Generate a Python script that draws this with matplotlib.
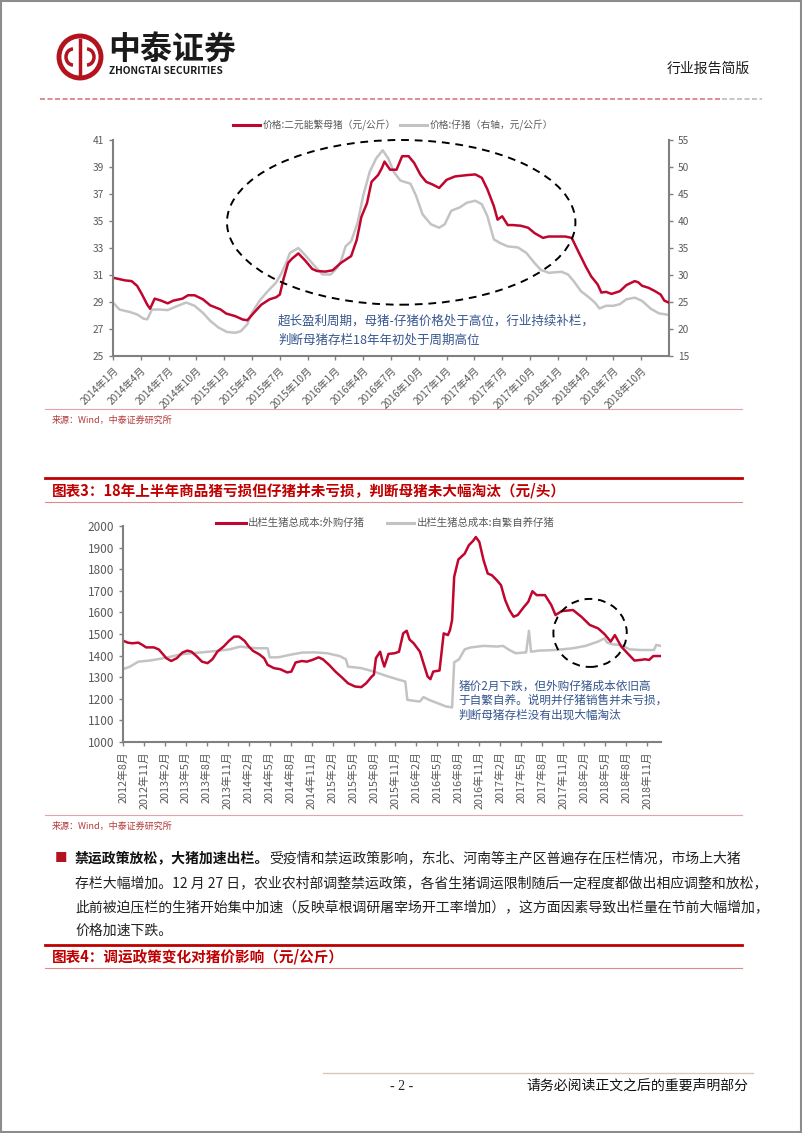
import matplotlib.pyplot as plt
from matplotlib.patches import Ellipse, Circle, Arc, Rectangle

plt.rcParams['font.family'] = ['Noto Sans CJK SC', 'DejaVu Sans']

RED = '#C0062F'
GRAY = '#C3C3C3'
AXC = '#808080'
TXT = '#595959'
BLUE = '#34558F'
TRED = '#C00000'

# ---- chart 1 data: month index from 2014-01 ----
sow_price = [(0, 30.8), (1.3, 30.6), (2.0, 30.55), (2.6, 30.2), (3.1, 29.6), (3.7, 28.8), (4.0, 28.5),
             (4.5, 29.25), (5.2, 29.1), (5.9, 28.9), (6.5, 29.1), (7.5, 29.25), (8.1, 29.5), (8.8, 29.5),
             (9.7, 29.2), (10.5, 28.75), (11.6, 28.45), (12.2, 28.15), (13.2, 27.95), (14.0, 27.7),
             (14.5, 27.65), (15.2, 28.2), (16.0, 28.8), (16.9, 29.2), (17.6, 29.35), (18.0, 29.55),
             (18.4, 30.7), (18.9, 31.9), (19.3, 32.2), (20.0, 32.6), (20.7, 32.1), (21.5, 31.45),
             (22.0, 31.3), (22.9, 31.25), (23.7, 31.35), (24.6, 31.9), (25.7, 32.4), (26.3, 33.6),
             (26.8, 35.3), (27.4, 36.3), (27.9, 37.9), (28.6, 38.4), (29.0, 38.9), (29.3, 39.4),
             (29.9, 38.8), (30.6, 38.8), (31.2, 39.8), (31.9, 39.8), (32.5, 39.3), (33.2, 38.4),
             (33.8, 37.9), (34.5, 37.7), (35.2, 37.45), (36.0, 38.05), (36.9, 38.3), (38.2, 38.4),
             (39.1, 38.45), (39.8, 38.2), (40.4, 37.35), (41.1, 36.1), (41.5, 35.1), (42.0, 35.35),
             (42.6, 34.7), (43.1, 34.7), (44.0, 34.65), (44.8, 34.5), (45.5, 34.1), (46.4, 33.75),
             (47.0, 33.85), (48.8, 33.85), (49.5, 33.75), (50.1, 32.9), (51.0, 31.65), (51.6, 30.9),
             (52.3, 30.3), (52.7, 29.7), (53.2, 29.75), (53.8, 29.6), (54.7, 29.8), (55.4, 30.25),
             (56.3, 30.55), (56.7, 30.45), (57.1, 30.2), (57.8, 30.05), (58.5, 29.8), (59.1, 29.55),
             (59.5, 29.1), (60.0, 28.95)]

piglet_price = [(0, 24.9), (0.7, 23.6), (1.8, 23.15), (2.6, 22.7), (3.3, 21.9), (3.7, 21.8), (4.2, 23.6),
                (5.0, 23.6), (5.9, 23.5), (7.0, 24.3), (7.9, 24.9), (8.8, 24.3), (9.7, 23.0), (10.5, 21.5),
                (11.4, 20.25), (12.3, 19.45), (13.2, 19.3), (13.8, 19.6), (14.5, 20.9), (14.9, 22.7),
                (15.8, 25.2), (16.7, 27.0), (17.6, 28.6), (18.2, 30.4), (18.7, 32.3), (19.1, 34.1),
                (20.0, 35.0), (20.7, 33.75), (21.8, 31.6), (22.0, 31.2), (22.6, 30.1), (23.5, 30.1),
                (24.2, 31.35), (24.6, 32.6), (25.1, 35.3), (25.7, 36.25), (26.4, 39.7), (27.0, 44.7),
                (27.7, 49.1), (28.4, 51.6), (29.1, 53.1), (29.7, 51.6), (30.3, 49.1), (31.0, 47.5),
                (32.1, 46.9), (32.7, 44.7), (33.4, 41.25), (34.3, 39.4), (35.2, 38.75), (35.8, 39.4),
                (36.5, 41.9), (37.4, 42.5), (38.2, 43.4), (39.1, 43.75), (39.8, 43.1), (40.4, 40.9),
                (41.1, 36.6), (41.8, 35.9), (42.6, 35.3), (43.7, 35.1), (44.6, 34.1), (45.5, 32.2),
                (46.2, 30.9), (46.6, 30.7), (47.0, 30.4), (48.4, 30.6), (49.1, 30.1), (49.7, 28.9),
                (50.5, 27.0), (51.4, 25.8), (52.0, 24.9), (52.5, 23.8), (53.2, 24.3), (54.0, 24.3),
                (54.7, 24.6), (55.4, 25.5), (56.3, 25.8), (57.1, 25.2), (58.0, 23.8), (58.9, 22.9),
                (60.0, 22.6)]

c1_ticks = list(range(0, 60, 3))
c1_labels = ['%d年%d月' % (2014 + i // 4, [1, 4, 7, 10][i % 4]) for i in range(20)]

# ---- chart 2 data: month index from 2012-08 ----
cost_bought = [(0, 1469), (0.7, 1460), (1.3, 1457), (2.2, 1460), (2.8, 1449), (3.3, 1438), (4.4, 1438),
               (5.1, 1429), (5.6, 1411), (6.2, 1388), (6.9, 1375), (7.7, 1388), (8.5, 1414), (9.2, 1423),
               (9.8, 1418), (10.5, 1398), (11.3, 1372), (12.1, 1365), (12.8, 1383), (13.5, 1418),
               (14.4, 1442), (15.2, 1469), (15.9, 1488), (16.6, 1488), (17.4, 1468), (18.0, 1442),
               (18.6, 1422), (19.5, 1406), (20.2, 1388), (20.7, 1357), (21.6, 1342), (22.5, 1337),
               (23.5, 1322), (24.1, 1326), (24.7, 1368), (25.6, 1375), (26.3, 1372), (27.1, 1380),
               (28.0, 1392), (28.6, 1383), (29.5, 1357), (30.4, 1326), (31.3, 1300), (32.2, 1272),
               (33.2, 1257), (34.1, 1254), (34.8, 1272), (35.6, 1303), (35.9, 1311), (36.2, 1388),
               (36.8, 1418), (37.1, 1380), (37.4, 1349), (38.0, 1408), (38.9, 1411), (39.5, 1418),
               (40.1, 1503), (40.6, 1515), (41.0, 1475), (41.6, 1457), (42.5, 1418), (43.0, 1365),
               (43.6, 1303), (44.0, 1291), (44.4, 1326), (45.3, 1331), (45.9, 1503), (46.5, 1495),
               (46.8, 1518), (47.1, 1565), (47.4, 1765), (48.0, 1845), (48.9, 1872), (49.5, 1911),
               (50.1, 1931), (50.5, 1949), (51.0, 1926), (51.6, 1842), (52.2, 1780), (52.8, 1772),
               (53.5, 1749), (54.1, 1726), (54.7, 1657), (55.3, 1611), (55.9, 1580), (56.5, 1588),
               (57.4, 1626), (58.0, 1649), (58.6, 1698), (59.2, 1680), (60.4, 1680), (61.3, 1634),
               (61.9, 1588), (62.8, 1606), (64.4, 1611), (65.6, 1580), (66.8, 1542), (68.0, 1526),
               (68.9, 1500), (69.8, 1465), (70.4, 1495), (71.3, 1442), (72.2, 1411), (73.2, 1377),
               (74.1, 1380), (74.7, 1383), (75.3, 1380), (75.9, 1398), (77.0, 1398)]

cost_self = [(0, 1337), (1.0, 1349), (2.2, 1372), (3.8, 1377), (5.3, 1385), (6.8, 1395), (8.3, 1406),
             (9.8, 1411), (11.3, 1415), (13.5, 1422), (15.3, 1429), (16.8, 1442), (17.7, 1438),
             (19.2, 1434), (20.7, 1434), (21.0, 1392), (22.2, 1392), (23.8, 1403), (25.6, 1414),
             (27.4, 1415), (29.2, 1411), (31.0, 1398), (31.9, 1383), (32.2, 1349), (34.1, 1342),
             (35.9, 1326), (37.7, 1306), (39.5, 1288), (40.4, 1280), (40.7, 1195), (42.2, 1188),
             (42.5, 1188), (43.0, 1208), (43.8, 1195), (45.0, 1180), (46.2, 1165), (47.1, 1160),
             (47.4, 1369), (48.1, 1383), (48.9, 1429), (49.8, 1438), (51.6, 1445), (53.5, 1442),
             (54.4, 1445), (55.3, 1426), (56.2, 1411), (57.7, 1415), (58.1, 1515), (58.4, 1418),
             (59.5, 1423), (61.9, 1426), (64.4, 1434), (66.2, 1445), (68.0, 1465), (68.9, 1480),
             (69.3, 1460), (70.1, 1452), (71.3, 1449), (72.5, 1429), (74.0, 1426), (76.0, 1426),
             (76.3, 1449), (77.0, 1445)]

c2_ticks = list(range(0, 77, 3))
c2_labels = ['%d年%d月' % (2012 + (7 + i) // 12, (7 + i) % 12 + 1) for i in range(0, 77, 3)]

W, H = 802, 1133
fig = plt.figure(figsize=(W / 100, H / 100), dpi=100)


def box(l, t, r, b):
    return [l / W, 1 - b / H, (r - l) / W, (b - t) / H]


page = fig.add_axes([0, 0, 1, 1])
page.set_xlim(0, W)
page.set_ylim(H, 0)
page.axis('off')

# ---- header ----
page.add_patch(Rectangle((1, 1), W - 2, H - 2, fill=False, ec='#8C8C8C', lw=1.5))
page.add_patch(Circle((80, 57), 21, fill=False, ec='#B3131E', lw=3.5))
page.plot([80, 80], [40, 74], color='#B3131E', lw=2.5)
page.add_patch(Arc((73, 57), 14, 16, theta1=90, theta2=270, ec='#B3131E', lw=2.5))
page.add_patch(Arc((87, 57), 14, 16, theta1=-90, theta2=90, ec='#B3131E', lw=2.5))
page.text(108, 50, '中泰证券', fontsize=23, fontweight='bold', va='center', color='#1a1a1a')
page.text(109, 71, 'ZHONGTAI SECURITIES', fontsize=7.3, fontweight='bold', va='center', color='#1a1a1a')
page.text(750, 69, '行业报告简版', fontsize=10, ha='right', va='center', color='#1a1a1a')
page.plot([40, 720], [99, 99], color='#D87A80', lw=1.2, ls=(0, (3, 1.5)))
page.plot([722, 762], [99, 99], color='#BBBBBB', lw=1.2, ls=(0, (3, 1.5)))

# ---- chart 1 ----
page.plot([233, 260], [125, 125], color=RED, lw=2.2)
page.text(263, 125, '价格:二元能繁母猪（元/公斤）', fontsize=7, va='center', color=TXT)
page.plot([400, 427], [125, 125], color=GRAY, lw=2.2)
page.text(430, 125, '价格:仔猪（右轴，元/公斤）', fontsize=7, va='center', color=TXT)

ax1 = fig.add_axes(box(113, 140, 669, 356))
ax1r = ax1.twinx()
ax1.set_zorder(ax1r.get_zorder() + 1)
ax1.patch.set_visible(False)
ax1.plot([p[0] for p in sow_price], [p[1] for p in sow_price], color=RED, lw=1.8)
ax1r.plot([p[0] for p in piglet_price], [p[1] for p in piglet_price], color=GRAY, lw=1.8)
ax1.set_xlim(0, 60)
ax1.set_ylim(25, 41)
ax1.set_yticks(range(25, 42, 2))
ax1r.set_ylim(15, 55)
ax1r.set_yticks(range(15, 56, 5))
ax1.set_xticks(c1_ticks)
ax1.set_xticklabels(c1_labels, rotation=45, ha='right', rotation_mode='anchor')
for a in (ax1, ax1r):
    for s in a.spines.values():
        s.set_color(AXC)
        s.set_linewidth(1.5)
    a.spines['top'].set_visible(False)
    a.tick_params(colors=AXC, labelcolor=TXT, labelsize=7.3, length=3, width=1)
ax1.spines['right'].set_visible(False)
ax1r.spines['left'].set_visible(False)
ax1r.spines['bottom'].set_visible(False)
ax1.add_patch(Ellipse((31.1, 34.9), 37.6, 12.2, fill=False, ec='black', lw=1.4,
                      ls=(0, (4, 3)), clip_on=False, zorder=5))
ax1.text(17.8, 27.55, '超长盈利周期，母猪-仔猪价格处于高位，行业持续补栏，', fontsize=9, color=BLUE, va='center')
ax1.text(17.8, 26.2, '判断母猪存栏18年年初处于周期高位', fontsize=9, color=BLUE, va='center')

page.plot([45, 742], [409, 409], color='#E3A3AA', lw=0.8)
page.text(52, 420, '来源：Wind，中泰证券研究所', fontsize=6.5, va='center', color='#B23A3A')

# ---- title 3 ----
page.plot([45, 742], [478, 478], color=TRED, lw=2)
page.text(52, 491, '图表3：18年上半年商品猪亏损但仔猪并未亏损，判断母猪未大幅淘汰（元/头）',
          fontsize=10.5, fontweight='bold', va='center', color=TRED)
page.plot([45, 742], [502, 502], color='#E08A8A', lw=0.8)

# ---- chart 2 ----
page.plot([216, 246], [523, 523], color=RED, lw=2.2)
page.text(248, 523, '出栏生猪总成本:外购仔猪', fontsize=7.5, va='center', color=TXT)
page.plot([387, 414], [523, 523], color=GRAY, lw=2.2)
page.text(417, 523, '出栏生猪总成本:自繁自养仔猪', fontsize=7.5, va='center', color=TXT)

ax2 = fig.add_axes(box(123, 526, 661, 742))
ax2.patch.set_visible(False)
ax2.plot([p[0] for p in cost_self], [p[1] for p in cost_self], color=GRAY, lw=1.8)
ax2.plot([p[0] for p in cost_bought], [p[1] for p in cost_bought], color=RED, lw=1.8)
ax2.set_xlim(0, 77)
ax2.set_ylim(1000, 2000)
ax2.set_yticks(range(1000, 2001, 100))
ax2.set_xticks(c2_ticks)
ax2.set_xticklabels(c2_labels, rotation=90, va='top')
for s in ax2.spines.values():
    s.set_color(AXC)
    s.set_linewidth(1.5)
ax2.spines['top'].set_visible(False)
ax2.spines['right'].set_visible(False)
ax2.tick_params(colors=AXC, labelcolor=TXT, length=3, width=1)
ax2.tick_params(axis='y', labelsize=8.5)
ax2.tick_params(axis='x', labelsize=7.8)
ax2.add_patch(Ellipse((66.85, 1505), 10.5, 315, fill=False, ec='black', lw=1.4,
                      ls=(0, (4, 3)), clip_on=False, zorder=5))
ax2.text(48, 1257, '猪价2月下跌，但外购仔猪成本依旧高', fontsize=8.4, color=BLUE, va='center')
ax2.text(48, 1195, '于自繁自养。说明并仔猪销售并未亏损，', fontsize=8.4, color=BLUE, va='center')
ax2.text(48, 1123, '判断母猪存栏没有出现大幅淘汰', fontsize=8.4, color=BLUE, va='center')

page.plot([45, 742], [815, 815], color='#E3A3AA', lw=0.8)
page.text(52, 826, '来源：Wind，中泰证券研究所', fontsize=6.5, va='center', color='#B23A3A')

# ---- body text ----
page.text(55, 858, '■', fontsize=9, va='center', color='#B3131E')
lead = page.text(75, 858, '禁运政策放松，大猪加速出栏。', fontsize=10, fontweight='bold',
                 va='center', color='#111111')
page.annotate('受疫情和禁运政策影响，东北、河南等主产区普遍存在压栏情况，市场上大猪',
              xy=(1, 0.5), xycoords=lead, va='center', fontsize=10, color='#222222')
page.text(75, 883, '存栏大幅增加。12 月 27 日，农业农村部调整禁运政策，各省生猪调运限制随后一定程度都做出相应调整和放松，',
          fontsize=10, va='center', color='#222222')
page.text(75, 907, '此前被迫压栏的生猪开始集中加速（反映草根调研屠宰场开工率增加），这方面因素导致出栏量在节前大幅增加，',
          fontsize=10, va='center', color='#222222')
page.text(75, 931, '价格加速下跌。', fontsize=10, va='center', color='#222222')

# ---- title 4 ----
page.plot([45, 742], [945, 945], color=TRED, lw=2)
page.text(52, 956, '图表4：调运政策变化对猪价影响（元/公斤）', fontsize=10.5, fontweight='bold',
          va='center', color=TRED)
page.plot([45, 742], [968, 968], color='#E08A8A', lw=0.8)

# ---- footer ----
page.plot([323, 753], [1073, 1073], color='#D9C8B8', lw=1)
page.text(402, 1086, '- 2 -', fontsize=10, ha='center', va='center', color='#222222', family='Liberation Serif')
page.text(748, 1086, '请务必阅读正文之后的重要声明部分', fontsize=10, ha='right', va='center', color='#111111')

fig.savefig('out.png', dpi=100)
